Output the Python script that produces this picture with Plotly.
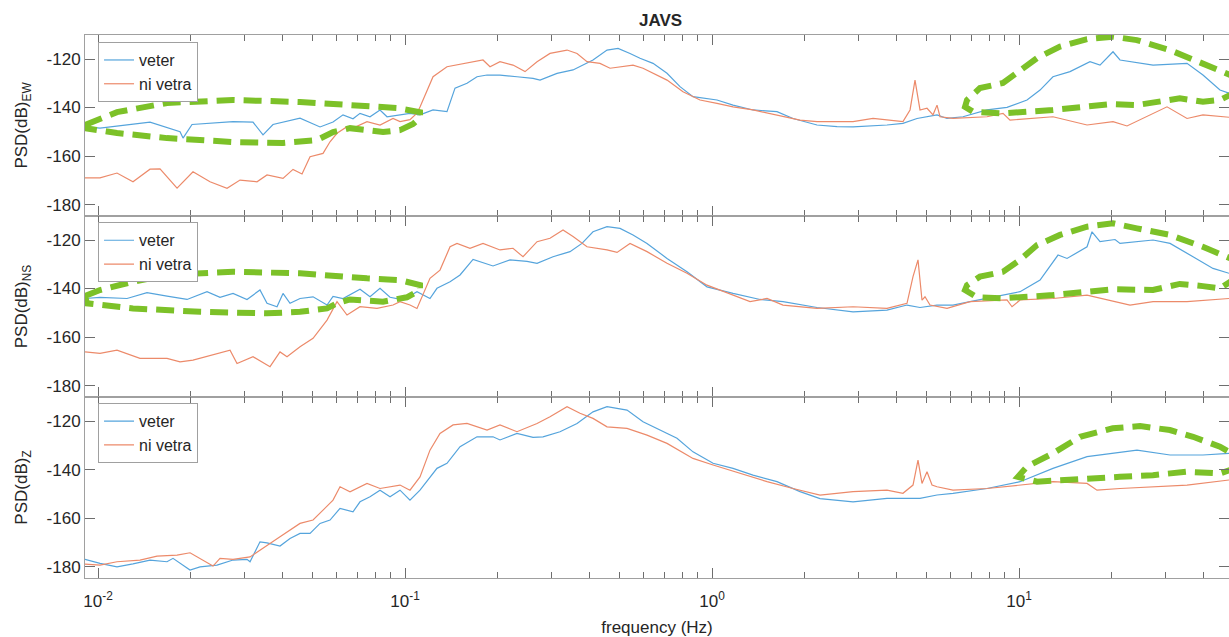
import numpy as np
import plotly.graph_objects as go

# ---------------- data ----------------
title_text = "JAVS"
series_names = ["veter", "ni vetra"]
panel_labels = ["PSD(dB)<sub>EW</sub>", "PSD(dB)<sub>NS</sub>", "PSD(dB)<sub>Z</sub>"]
x_title = "frequency (Hz)"

x_major = [0.01, 0.1, 1, 10]
x_major_text = ["10<sup>-2</sup>", "10<sup>-1</sup>", "10<sup>0</sup>", "10<sup>1</sup>"]
x_minor = [m * d for d in [0.001, 0.01, 0.1, 1, 10] for m in range(2, 10)]
y_ticks = [-180, -160, -140, -120]
y_tick_text = ["-180", "-160", "-140", "-120"]

# EW - veter
ew_veter_f = [0.00907, 0.01015, 0.01477, 0.0185, 0.01892, 0.02024, 0.02753, 0.03198, 0.03447, 0.03715,
              0.0455, 0.05287, 0.05828, 0.06281, 0.06771, 0.07136, 0.07691, 0.0829, 0.08739, 0.09632,
              0.1038, 0.1119, 0.1234, 0.137, 0.1455, 0.1592, 0.1716, 0.185, 0.2039, 0.2316,
              0.2612, 0.2753, 0.3127, 0.3526, 0.38, 0.4096, 0.455, 0.4942, 0.5407, 0.5828,
              0.6425, 0.7136, 0.7866, 0.8671, 1.038, 1.171, 1.36, 1.628, 1.836, 2.198,
              2.555, 2.88, 3.715, 4.188, 4.654, 5.016, 5.407, 5.828, 6.571, 7.866,
              9.14, 10.62, 11.71, 12.9, 14.66, 17.03, 18.36, 20.24, 21.33, 27.33,
              35.26, 39.74, 45.15, 48.31]
ew_veter_db = [-147.9, -148.5, -146.0, -150.0, -152.6, -147.0, -145.8, -146.0, -151.3, -147.0,
               -144.4, -148.0, -146.0, -143.0, -144.6, -142.4, -143.8, -141.0, -143.8, -143.0,
               -142.4, -143.0, -141.0, -141.7, -132.0, -130.0, -127.3, -126.6, -126.6, -127.3,
               -128.0, -128.7, -125.9, -124.5, -122.5, -120.4, -116.3, -115.6, -117.7, -119.7,
               -121.8, -125.9, -131.4, -135.5, -136.9, -139.0, -141.0, -141.7, -144.5, -147.2,
               -147.9, -148.0, -147.2, -146.5, -144.5, -143.8, -143.0, -144.5, -143.8, -141.0,
               -139.9, -136.9, -132.8, -127.3, -125.2, -121.1, -122.5, -117.0, -120.4, -122.5,
               -121.8, -126.6, -132.8, -134.1]

# EW - ni vetra
ew_nivetra_f = [0.00907, 0.01015, 0.01153, 0.013, 0.01477, 0.01592, 0.01809, 0.02039, 0.02316, 0.02632,
                0.02901, 0.03295, 0.03552, 0.04005, 0.04317, 0.04619, 0.04905, 0.05407, 0.05698, 0.06005,
                0.06473, 0.06771, 0.0752, 0.0829, 0.0914, 0.09632, 0.1038, 0.1094, 0.1119, 0.1234,
                0.137, 0.1592, 0.1795, 0.1892, 0.2039, 0.2248, 0.246, 0.2692, 0.2967, 0.3371,
                0.3634, 0.3916, 0.4317, 0.4654, 0.553, 0.596, 0.7136, 0.8045, 0.914, 1.038,
                1.171, 1.36, 1.628, 1.935, 2.198, 2.88, 3.346, 4.188, 4.416, 4.584,
                4.759, 5.016, 5.247, 5.407, 5.53, 6.095, 7.866, 8.871, 9.348, 12.9,
                16.66, 20.24, 22.48, 30.35, 35.26, 39.74, 48.31]
ew_nivetra_db = [-169.0, -169.0, -167.0, -170.6, -165.4, -165.3, -173.2, -166.5, -170.6, -173.3,
                 -169.9, -170.6, -167.8, -169.2, -165.5, -167.4, -160.3, -158.9, -154.1, -150.6,
                 -147.9, -148.5, -145.8, -147.2, -144.5, -145.8, -145.0, -142.3, -139.8, -127.3,
                 -123.2, -121.8, -120.4, -123.2, -121.1, -122.5, -125.2, -121.1, -117.7, -116.3,
                 -117.7, -121.1, -121.8, -123.8, -122.5, -123.8, -128.7, -133.5, -136.9, -138.3,
                 -139.7, -141.0, -143.0, -145.2, -145.8, -145.8, -144.5, -145.8, -141.0, -128.7,
                 -141.0, -140.3, -143.0, -139.0, -143.8, -144.5, -143.8, -142.4, -145.2, -143.8,
                 -147.2, -145.8, -147.6, -139.7, -144.5, -143.0, -144.0]

# NS - veter
ns_veter_f = [0.00907, 0.01015, 0.01243, 0.01444, 0.01678, 0.0195, 0.02265, 0.02497, 0.02753, 0.03057,
              0.0337, 0.03552, 0.03829, 0.04005, 0.04221, 0.0455, 0.05017, 0.05572, 0.05828, 0.06281,
              0.07136, 0.07691, 0.0829, 0.08937, 0.0985, 0.1062, 0.1094, 0.1206, 0.1271, 0.1402,
              0.1511, 0.1666, 0.1935, 0.2198, 0.2497, 0.2692, 0.3035, 0.3447, 0.3771, 0.4096,
              0.455, 0.5017, 0.553, 0.6142, 0.7136, 0.829, 0.9632, 1.171, 1.434, 1.703,
              2.198, 2.88, 3.715, 4.317, 4.759, 5.407, 6.095, 6.926, 8.871, 10.08,
              11.71, 13.4, 14.34, 16.66, 17.29, 18.36, 20.55, 21.33, 27.33, 31.05,
              36.88, 42.84, 48.31]
ns_veter_db = [-144.1, -143.6, -144.1, -141.7, -143.1, -144.5, -141.3, -143.6, -142.0, -144.5,
               -140.6, -146.1, -147.5, -142.0, -146.1, -144.1, -143.4, -146.8, -143.2, -144.1,
               -140.3, -143.4, -139.9, -143.6, -144.7, -142.0, -141.3, -144.1, -139.9, -137.2,
               -134.4, -128.0, -130.7, -128.2, -128.8, -129.6, -126.9, -124.8, -121.4, -116.6,
               -114.5, -115.2, -117.9, -121.4, -127.6, -133.1, -139.3, -142.0, -144.5, -145.4,
               -147.8, -149.6, -148.9, -146.8, -147.8, -146.8, -146.8, -145.4, -142.7, -141.3,
               -136.5, -126.2, -127.6, -122.8, -116.6, -120.7, -119.8, -121.4, -120.0, -121.4,
               -126.9, -131.7, -133.7]

# NS - ni vetra
ns_nivetra_f = [0.00907, 0.01015, 0.01153, 0.0137, 0.01678, 0.0185, 0.02039, 0.02369, 0.02692, 0.02837,
                0.03198, 0.03633, 0.03916, 0.04127, 0.0455, 0.05017, 0.05572, 0.06005, 0.06473, 0.07136,
                0.08105, 0.0914, 0.09632, 0.1038, 0.1094, 0.1206, 0.13, 0.1402, 0.1477, 0.1628,
                0.1795, 0.2039, 0.2248, 0.2423, 0.2692, 0.2967, 0.3271, 0.3526, 0.3916, 0.455,
                0.4905, 0.5407, 0.6142, 0.7136, 0.829, 0.9632, 1.171, 1.33, 1.511, 1.703,
                2.198, 2.88, 3.715, 4.317, 4.516, 4.688, 4.831, 4.941, 5.13, 5.828,
                6.926, 9.14, 9.489, 10.08, 12.9, 16.66, 22.99, 27.33, 35.26, 48.31]
ns_nivetra_db = [-166.1, -166.7, -165.4, -168.8, -168.8, -170.2, -169.5, -167.4, -165.4, -170.9,
                 -168.1, -172.2, -166.1, -168.1, -164.0, -160.5, -153.0, -145.4, -150.9, -147.5,
                 -148.2, -146.8, -145.4, -146.8, -148.2, -135.8, -132.4, -122.8, -121.4, -123.4,
                 -121.4, -124.1, -123.4, -126.9, -120.7, -119.3, -115.9, -118.6, -122.8, -124.1,
                 -125.1, -121.4, -124.8, -129.6, -133.7, -138.6, -142.7, -145.4, -144.1, -146.8,
                 -148.2, -147.5, -148.2, -146.1, -135.1, -128.2, -144.8, -143.4, -146.8, -148.2,
                 -145.4, -144.7, -147.5, -144.7, -144.1, -142.7, -146.8, -145.4, -145.4, -144.1]

# Z - veter
z_veter_f = [0.00907, 0.01015, 0.01153, 0.013, 0.01477, 0.01678, 0.01755, 0.0185, 0.01994, 0.02149,
             0.02441, 0.02753, 0.03057, 0.03127, 0.0337, 0.03552, 0.03916, 0.04221, 0.0455, 0.04905,
             0.05287, 0.05698, 0.06142, 0.06771, 0.07136, 0.07691, 0.0829, 0.08937, 0.09632, 0.1038,
             0.1119, 0.1271, 0.137, 0.1511, 0.1716, 0.1935, 0.2039, 0.2316, 0.2612, 0.2815,
             0.3198, 0.3634, 0.4096, 0.455, 0.5287, 0.596, 0.6771, 0.7691, 0.8671, 1.008,
             1.171, 1.36, 1.628, 1.935, 2.248, 2.88, 3.715, 4.759, 5.407, 6.095,
             7.866, 10.08, 12.9, 16.66, 24.23, 31.05, 39.74, 48.31]
z_veter_db = [-177.0, -178.7, -180.1, -178.9, -177.3, -178.0, -176.6, -178.7, -181.4, -180.1,
              -179.4, -177.3, -177.0, -178.0, -169.8, -170.2, -171.5, -168.4, -166.3, -166.3,
              -162.2, -160.8, -156.0, -157.4, -153.3, -151.2, -148.5, -151.2, -148.5, -152.6,
              -148.5, -139.5, -137.4, -130.6, -126.5, -126.5, -127.8, -125.1, -126.7, -126.5,
              -124.4, -121.0, -116.2, -114.1, -115.5, -120.3, -123.7, -127.1, -132.7, -137.4,
              -139.5, -142.3, -145.0, -149.1, -152.0, -153.3, -151.9, -151.9, -150.5, -149.8,
              -147.8, -145.0, -139.5, -134.7, -132.0, -134.0, -134.0, -133.3]

# Z - ni vetra
z_nivetra_f = [0.00907, 0.01015, 0.01153, 0.0137, 0.01557, 0.01809, 0.01994, 0.02149, 0.02369, 0.02497,
               0.02753, 0.03127, 0.03552, 0.03916, 0.0455, 0.05017, 0.05407, 0.05828, 0.06142, 0.0662,
               0.0752, 0.0829, 0.09632, 0.1038, 0.1119, 0.1206, 0.13, 0.1434, 0.1592, 0.185,
               0.2039, 0.2316, 0.2692, 0.2967, 0.3371, 0.3715, 0.4096, 0.455, 0.5287, 0.6142,
               0.7136, 0.8671, 1.008, 1.234, 1.511, 1.836, 2.248, 2.88, 3.715, 4.188,
               4.516, 4.688, 4.831, 5.016, 5.208, 5.407, 6.095, 7.866, 10.08, 12.9,
               16.66, 17.95, 21.33, 27.33, 35.26, 48.31]
z_nivetra_db = [-179.0, -179.4, -178.0, -177.3, -175.7, -175.3, -174.3, -176.6, -179.8, -176.6,
                -177.0, -176.0, -171.1, -167.7, -162.2, -160.8, -156.7, -152.6, -147.1, -149.2,
                -145.7, -147.8, -146.4, -148.5, -143.0, -132.0, -125.1, -121.6, -121.0, -123.7,
                -121.6, -124.4, -121.0, -118.2, -114.1, -116.8, -118.9, -122.4, -123.0, -125.8,
                -129.2, -135.4, -138.1, -141.6, -145.0, -147.8, -150.5, -149.1, -148.5, -149.8,
                -146.4, -136.1, -145.7, -140.9, -146.4, -147.1, -148.5, -147.8, -146.4, -145.0,
                -145.7, -148.5, -147.8, -147.1, -146.4, -144.3]

# green dashed highlight outlines (frequency, dB)
ew_left_f = [0.00907, 0.01153, 0.01678, 0.02753, 0.0455, 0.0752, 0.0942, 0.1119,
             0.1119, 0.1062, 0.0963, 0.0848, 0.0662, 0.0583, 0.0517, 0.04005, 0.02753, 0.01678, 0.01153, 0.00907, 0.00907]
ew_left_db = [-147.2, -141.9, -138.1, -136.9, -137.7, -139.4, -140.2, -141.9,
              -144.3, -146.8, -149.3, -150.1, -148.5, -150.1, -153.4, -154.6, -154.2, -152.6, -150.5, -148.5, -147.2]
ew_right_f = [52, 45.15, 39.74, 33.4, 24.2, 19.8, 12.9, 8.87, 7.08, 6.67, 6.77, 7.46, 8.87, 10.07,
              11.45, 13.6, 16.66, 20.2, 24.2, 31.0, 39.7, 48.3, 52]
ew_right_db = [-133.0, -136.9, -137.6, -136.2, -139.0, -138.6, -141.0, -142.4, -141.7, -139.7, -136.9, -132.0, -129.9, -124.5,
               -119.6, -114.9, -111.8, -110.8, -112.2, -116.3, -121.6, -125.8, -128.0]
ns_left_f = [0.00907, 0.01015, 0.013, 0.01678, 0.02753, 0.0455, 0.0752, 0.0963, 0.1119,
             0.1119, 0.1014, 0.0848, 0.0662, 0.0600, 0.0557, 0.0455, 0.0355, 0.02148, 0.013, 0.00921, 0.00907]
ns_left_db = [-143.1, -140.6, -137.2, -134.4, -133.1, -133.7, -135.8, -136.5, -138.6,
              -140.6, -143.6, -145.4, -144.5, -146.1, -148.2, -149.6, -150.2, -149.6, -148.2, -146.1, -143.1]
ns_right_f = [52, 48.3, 45.15, 39.7, 33.4, 27.3, 20.2, 12.9, 8.87, 7.30, 6.67, 6.77, 7.46, 8.87, 10.07,
              11.45, 13.6, 16.66, 20.2, 24.2, 31.0, 39.7, 47.6, 52]
ns_right_db = [-135.0, -137.2, -139.9, -139.0, -138.1, -140.6, -140.3, -142.7, -144.0, -143.6, -140.6, -138.6, -135.1, -133.1, -128.2,
               -122.1, -117.9, -114.5, -113.1, -115.2, -117.9, -122.8, -126.9, -129.0]
z_right_f = [52, 48.3, 45.15, 35.2, 27.3, 21.3, 14.66, 11.45, 9.92, 10.62, 12.9, 15.8, 20.2, 24.8, 31.0, 36.9, 45.15, 48.3, 52]
z_right_db = [-139.0, -140.2, -141.6, -140.9, -142.3, -143.0, -144.3, -145.0, -143.0, -138.8, -133.3, -126.5, -123.0, -122.1,
              -123.7, -126.5, -130.6, -132.7, -134.0]

# ---------------- styling ----------------
BLUE = "#55a4dc"
ORANGE = "#ec8a6a"
GREEN = "#7cc128"
AXCOL = "#a0a0a0"
TICKCOL = "#6e6e6e"
TXT = "#262626"
FONT = "Liberation Sans, Arial, sans-serif"
FS = 17

panels = [
    (ew_veter_f, ew_veter_db, ew_nivetra_f, ew_nivetra_db, [(ew_left_f, ew_left_db), (ew_right_f, ew_right_db)]),
    (ns_veter_f, ns_veter_db, ns_nivetra_f, ns_nivetra_db, [(ns_left_f, ns_left_db), (ns_right_f, ns_right_db)]),
    (z_veter_f, z_veter_db, z_nivetra_f, z_nivetra_db, [(z_right_f, z_right_db)]),
]

fig = go.Figure()
domains = [[0.6667, 1.0], [0.3333, 0.6667], [0.0, 0.3333]]
legend_tops = [0.987, 0.655, 0.322]

for i, (vf, vdb, nf, ndb, loops) in enumerate(panels):
    k = i + 1
    xa = "x" if k == 1 else f"x{k}"
    ya = "y" if k == 1 else f"y{k}"
    lg = "legend" if k == 1 else f"legend{k}"
    fig.add_trace(go.Scatter(x=vf, y=vdb, mode="lines", name=series_names[0],
                             line=dict(color=BLUE, width=1.2), xaxis=xa, yaxis=ya, legend=lg))
    fig.add_trace(go.Scatter(x=nf, y=ndb, mode="lines", name=series_names[1],
                             line=dict(color=ORANGE, width=1.2), xaxis=xa, yaxis=ya, legend=lg))
    for lf, ldb in loops:
        fig.add_trace(go.Scatter(x=lf, y=ldb, mode="lines", showlegend=False, hoverinfo="skip",
                                 line=dict(color=GREEN, width=6, dash="18px,9px"),
                                 xaxis=xa, yaxis=ya))

x_range = [np.log10(0.00907), np.log10(48.31)]
y_range = [-184.7, -110.1]

layout = dict(
    width=1229, height=637,
    margin=dict(l=85, r=0, t=35, b=59),
    paper_bgcolor="white", plot_bgcolor="white",
    font=dict(family=FONT, size=FS, color=TXT),
    title=dict(text="<b>" + title_text + "</b>", x=0.5375, xanchor="center", y=0.968, yanchor="middle",
               font=dict(size=FS, color=TXT, family=FONT)),
    showlegend=True,
)

for i in range(3):
    k = i + 1
    xkey = "xaxis" if k == 1 else f"xaxis{k}"
    ykey = "yaxis" if k == 1 else f"yaxis{k}"
    ya = "y" if k == 1 else f"y{k}"
    xa = "x" if k == 1 else f"x{k}"
    layout[xkey] = dict(
        type="log", range=x_range, anchor=ya, domain=[0, 1],
        showline=True, linecolor=AXCOL, linewidth=1, mirror="ticks",
        ticks="inside", ticklen=10, tickcolor=TICKCOL, tickwidth=1,
        tickmode="array", tickvals=x_major, ticktext=x_major_text if k == 3 else [""] * 4,
        showticklabels=(k == 3), ticklabelstandoff=8,
        minor=dict(tickmode="array", tickvals=x_minor, ticks="inside", ticklen=6,
                   tickcolor=TICKCOL, tickwidth=1, showgrid=False),
        showgrid=False, zeroline=False,
        tickfont=dict(size=FS, color=TXT),
    )
    if k != 1:
        layout[xkey]["matches"] = "x"
    if k == 3:
        layout[xkey]["title"] = dict(text=x_title, standoff=10, font=dict(size=FS, color=TXT))
    layout[ykey] = dict(
        range=y_range, domain=domains[i], anchor=xa,
        showline=True, linecolor=AXCOL, linewidth=1, mirror="ticks",
        ticks="inside", ticklen=10, tickcolor=TICKCOL, tickwidth=1,
        tickmode="array", tickvals=y_ticks, ticktext=y_tick_text,
        showgrid=False, zeroline=False,
        tickfont=dict(size=FS, color=TXT),
        title=dict(text=panel_labels[i], standoff=14, font=dict(size=FS, color=TXT)),
    )
    lkey = "legend" if k == 1 else f"legend{k}"
    layout[lkey] = dict(
        x=0.0114, xanchor="left", y=legend_tops[i], yanchor="top",
        bgcolor="white", bordercolor=AXCOL, borderwidth=1,
        font=dict(size=16, color=TXT), tracegroupgap=0,
    )

fig.update_layout(**layout)
fig.write_html("out.html")
